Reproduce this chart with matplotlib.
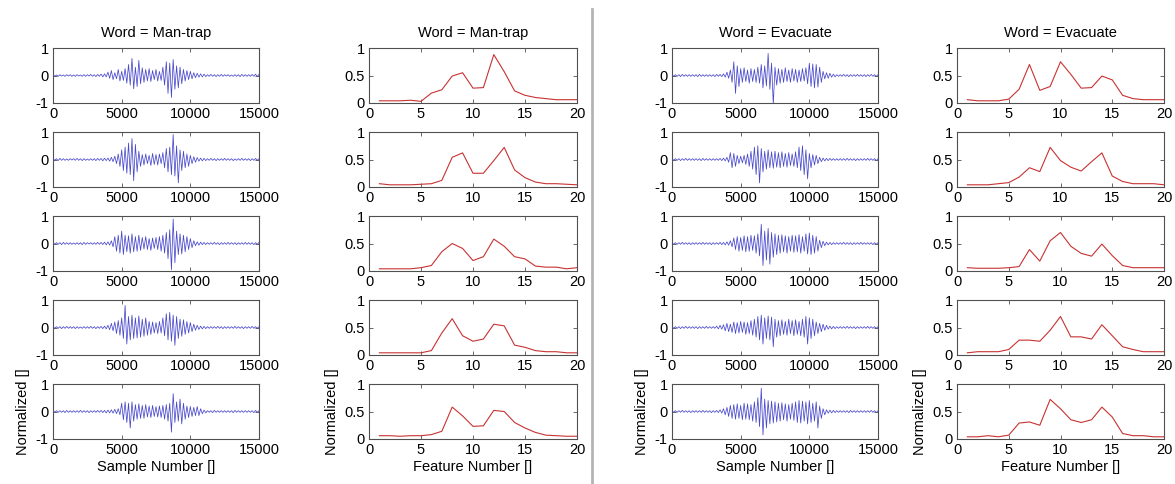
import numpy as np
import matplotlib
matplotlib.use("Agg")
import matplotlib.pyplot as plt
from matplotlib.lines import Line2D

plt.rcParams['font.family'] = ['Liberation Sans', 'DejaVu Sans']

words = ["Man-trap", "Evacuate"]
feature_x = list(range(1, 21))
sample_step = 250          # spacing of envelope readings (samples)
n_samples = 15000

# ---- feature vectors (red curves), 5 utterances per word ----
feat_mantrap = [
    [0.04,0.04,0.04,0.05,0.03,0.18,0.24,0.49,0.55,0.27,0.28,0.88,0.57,0.22,0.14,0.10,0.08,0.06,0.06,0.06],
    [0.06,0.04,0.04,0.04,0.05,0.06,0.12,0.54,0.62,0.25,0.25,0.48,0.72,0.31,0.17,0.09,0.06,0.06,0.05,0.04],
    [0.04,0.04,0.04,0.04,0.06,0.10,0.35,0.50,0.41,0.19,0.26,0.58,0.45,0.26,0.22,0.09,0.07,0.07,0.04,0.06],
    [0.04,0.04,0.04,0.04,0.04,0.08,0.40,0.66,0.35,0.25,0.29,0.56,0.53,0.18,0.14,0.08,0.06,0.06,0.04,0.04],
    [0.06,0.06,0.05,0.06,0.06,0.08,0.14,0.58,0.42,0.23,0.24,0.52,0.50,0.30,0.20,0.12,0.07,0.06,0.05,0.05],
]
feat_evacuate = [
    [0.06,0.04,0.04,0.04,0.07,0.25,0.70,0.23,0.30,0.75,0.52,0.27,0.28,0.49,0.42,0.14,0.08,0.06,0.06,0.06],
    [0.04,0.04,0.04,0.06,0.08,0.18,0.35,0.28,0.72,0.48,0.36,0.29,0.46,0.62,0.20,0.10,0.06,0.06,0.06,0.04],
    [0.06,0.05,0.05,0.05,0.06,0.08,0.39,0.18,0.55,0.70,0.45,0.32,0.27,0.49,0.28,0.10,0.06,0.06,0.06,0.06],
    [0.04,0.06,0.06,0.06,0.10,0.27,0.27,0.25,0.45,0.70,0.33,0.33,0.29,0.55,0.35,0.15,0.10,0.06,0.06,0.06],
    [0.04,0.04,0.06,0.04,0.07,0.29,0.31,0.25,0.72,0.55,0.35,0.30,0.35,0.58,0.40,0.10,0.06,0.06,0.04,0.04],
]

# ---- waveform envelopes (hundredths), one reading every 250 samples ----
wave_mantrap_pos = [
    [3,2,3,2,3,3,2,3,2,3,3,4,3,4, 5,6, 12,18,10,22,15,25, 40,62,30,55,28,22, 25,18,22,15, 30,50,45,58,35,30,22,18, 15,10,8,6,5, 3,4,3,3,4,3,3,2,3,3,4,3,3,4,5,4],
    [3,3,4,3,2,3,3,4,3,3,2,3,3,4, 4,5,5,8, 12,20,35,45, 60,76,55,30, 18,20,15,22,18,20, 25,40,45,91,50, 35,30,20,15,10, 7,5,4, 3,4,3,3,3,4,3,3,2,3,4,3,3,3,4,3],
    [3,3,3,4,3,3,2,3,3,4,3,3,3,4, 4,5,6,10, 25,30,45,30, 28,35,25,30, 22,25,18,20,22,25, 30,40,50,89,45, 35,30,25,18,10, 6,5,4, 3,3,4,3,3,3,4,3,3,3,3,4,3,3,3,4],
    [3,3,3,3,4,3,3,3,2,3,3,4,3,3, 4,5,8,15, 20,25,35,80, 40,45,35,42, 30,35,22,20,18,22, 35,50,55,45,40, 30,28,22,18,12, 8,5,4, 3,3,3,4,3,3,3,3,4,3,3,3,3,4,3,3],
    [3,3,3,3,4,3,3,3,4,3,3,3,3,4, 4,4,5,6, 8,10,30,35, 30,35,25,28, 22,25,20,22,18,20, 22,25,30,65,35, 45,30,20,18,15, 18,10,5, 3,3,4,3,3,3,3,3,4,3,3,3,3,3,4,3],
]
wave_mantrap_neg = [
    [3,3,2,3,2,3,3,2,3,3,2,3,4,3, 5,5, 10,15,12,20,18,28, 35,48,40,30,25,20, 22,15,20,18, 35,65,80,50,45,30,20,15, 12,8,6,5,4, 3,3,4,3,3,2,3,3,3,4,3,3,3,3,4,3],
    [3,4,3,3,3,2,3,3,4,3,3,3,4,3, 5,4,6,8, 15,25,40,50, 55,77,45,25, 20,15,22,18,20,15, 30,45,55,60,85, 40,30,25,15,10, 6,5,4, 3,3,4,3,3,3,3,4,3,3,3,3,4,3,3,3],
    [3,3,4,3,3,3,3,3,4,3,2,3,3,3, 4,5,6,12, 28,35,40,30, 35,30,28,25, 20,22,25,18,22,28, 35,55,95,70,40, 38,30,22,15,8, 6,4,4, 3,3,3,4,3,3,3,3,4,3,3,3,3,4,3,3],
    [3,3,4,3,3,3,4,3,3,3,3,3,4,3, 4,5,8,12, 22,28,40,60, 45,40,38,35, 32,28,25,20,22,20, 30,45,50,65,40, 32,25,20,15,10, 7,5,4, 3,3,3,3,4,3,3,3,3,3,4,3,3,3,3,3],
    [3,3,3,4,3,3,3,3,3,3,4,3,3,3, 4,5,5,6, 8,12,30,40, 60,35,28,25, 25,20,22,18,20,22, 28,35,75,40,35, 45,28,22,18,15, 15,8,5, 3,4,3,3,3,3,3,4,3,3,3,3,3,4,3,3],
]
wave_evacuate_pos = [
    [3,3,3,4,3,3,3,3,4,3,3,3,3,4, 4,6,12,20, 50,35,25,28, 20,25,22,30, 40,35,80,45, 30,25,22,28,20,25, 22,20,25,28,45,42, 40,30,15,10,8,5, 3,3,4,3,3,3,4,3,3,3,4,3,3],
    [3,3,3,3,4,3,3,3,3,4,3,3,3,3, 4,5,8,25, 22,15,12,15, 20,30,45,50, 40,30,35,28, 30,25,28,22,25,20, 28,45,50,35,22,18, 15,8,5,4,4,3, 3,3,3,4,3,3,3,3,3,4,3,3,3],
    [3,3,3,4,3,3,3,3,3,4,3,3,3,3, 4,4,6,10, 20,25,22,28, 25,30,28,35, 70,45,55,40, 35,30,32,28,25,30, 28,32,25,35,38,30, 25,12,8,5,4,3, 3,3,4,3,3,3,3,4,3,3,3,3,3],
    [3,3,3,3,4,3,3,3,3,3,4,3,3, 5,8,10,15,12, 20,18,22,20, 18,25,30,40, 45,35,42,38, 30,25,28,22,30,25, 28,22,30,40,35,30, 20,15,12,8,5,4, 3,3,3,4,3,3,3,3,3,4,3,3,3],
    [3,3,3,4,3,3,3,3,3,4,3,3,3, 4,6,10,15,22, 25,28,22,30, 28,25,35,50, 85,45,40,38, 35,30,32,28,25,30, 35,40,38,35,40,30, 35,20,10,6,5,4, 3,3,3,3,4,3,3,3,3,3,4,3,3],
]
wave_evacuate_neg = [
    [3,3,4,3,3,3,3,4,3,3,3,3,4,3, 4,6,10,25, 65,40,25,22, 28,22,25,28, 45,38,50,105, 35,28,25,22,25,20, 25,22,20,30,40,45, 42,25,12,10,6,5, 3,3,3,4,3,3,3,3,4,3,3,3,3],
    [3,3,4,3,3,3,3,3,4,3,3,3,3,3, 4,5,10,30, 25,15,12,18, 25,35,55,85, 45,35,30,32, 28,30,25,28,22,25, 30,40,55,70,30,20, 15,8,5,4,3,3, 3,3,3,3,3,4,3,3,3,3,3,4,3],
    [3,3,3,3,3,4,3,3,3,3,3,4,3,3, 4,5,6,12, 22,28,25,30, 28,25,35,45, 80,60,75,50, 40,35,30,35,28,32, 30,35,28,38,40,35, 28,15,8,5,4,3, 3,3,3,3,4,3,3,3,3,3,4,3,3],
    [3,3,4,3,3,3,3,4,3,3,3,3,3, 5,6,12,15,18, 22,20,18,25, 22,28,35,45, 60,40,45,70, 35,30,25,28,22,30, 25,30,35,60,40,30, 22,15,10,6,5,4, 3,3,3,3,3,4,3,3,3,3,3,3,4],
    [3,3,3,3,3,4,3,3,3,3,3,4,3, 4,6,12,18,25, 28,25,30,28, 30,35,40,55, 85,60,45,42, 38,35,30,35,28,32, 40,42,35,45,40,35, 60,25,12,6,5,4, 3,3,3,4,3,3,3,3,3,3,3,4,3],
]

W, H = 1175, 484
fig = plt.figure(figsize=(W / 100, H / 100), dpi=100)

col_lr = [(53, 259), (369, 577), (672, 878), (957, 1164)]
row_tops = [48, 132, 216, 300, 384]
row_h = 55

blue = '#4848cc'
red = '#c83232'
spine_c = '#505050'


def make_ax(col, row):
    l, r = col_lr[col]
    t = row_tops[row]
    ax = fig.add_axes([l / W, 1 - (t + row_h) / H, (r - l) / W, row_h / H])
    for s in ax.spines.values():
        s.set_color(spine_c)
        s.set_linewidth(0.8)
    ax.tick_params(direction='in', top=True, right=True, length=3, width=0.6,
                   color=spine_c, labelsize=10.5, pad=3)
    return ax


def wave_xy(pos, neg):
    idx = np.arange(len(pos)) * sample_step
    x = np.empty(2 * len(pos))
    y = np.empty(2 * len(pos))
    x[0::2] = idx
    x[1::2] = idx + sample_step / 2
    y[0::2] = np.array(pos) / 100.0
    y[1::2] = -np.array(neg) / 100.0
    return x, y


groups = [
    (words[0], wave_mantrap_pos, wave_mantrap_neg, feat_mantrap),
    (words[1], wave_evacuate_pos, wave_evacuate_neg, feat_evacuate),
]

for g, (word, wpos, wneg, feats) in enumerate(groups):
    cw, cf = 2 * g, 2 * g + 1
    for r in range(5):
        ax = make_ax(cw, r)
        x, y = wave_xy(wpos[r], wneg[r])
        ax.plot(x, y, color=blue, lw=0.55)
        ax.set_xlim(0, n_samples)
        ax.set_ylim(-1, 1)
        ax.set_xticks([0, 5000, 10000, 15000])
        ax.set_yticks([-1, 0, 1])
        ax.set_yticklabels(['-1', '0', '1'])
        if r == 0:
            ax.set_title(f"Word = {word}", fontsize=10.5, pad=8)
        if r == 4:
            ax.set_xlabel("Sample Number []", fontsize=10.5, labelpad=2)
            ax.set_ylabel("Normalized []", fontsize=10.5, labelpad=4)

        ax2 = make_ax(cf, r)
        ax2.plot(feature_x, feats[r], color=red, lw=0.8)
        ax2.set_xlim(0, 20)
        ax2.set_ylim(0, 1)
        ax2.set_xticks([0, 5, 10, 15, 20])
        ax2.set_yticks([0, 0.5, 1])
        ax2.set_yticklabels(['0', '0.5', '1'])
        if r == 0:
            ax2.set_title(f"Word = {word}", fontsize=10.5, pad=8)
        if r == 4:
            ax2.set_xlabel("Feature Number []", fontsize=10.5, labelpad=2)
            ax2.set_ylabel("Normalized []", fontsize=10.5, labelpad=4)

# vertical separator between the two words
fig.add_artist(Line2D([592 / W, 592 / W], [0, 1 - 9 / H], transform=fig.transFigure,
                      color='#b4b4b4', lw=2))

fig.savefig("out.png", dpi=100, facecolor='white')
